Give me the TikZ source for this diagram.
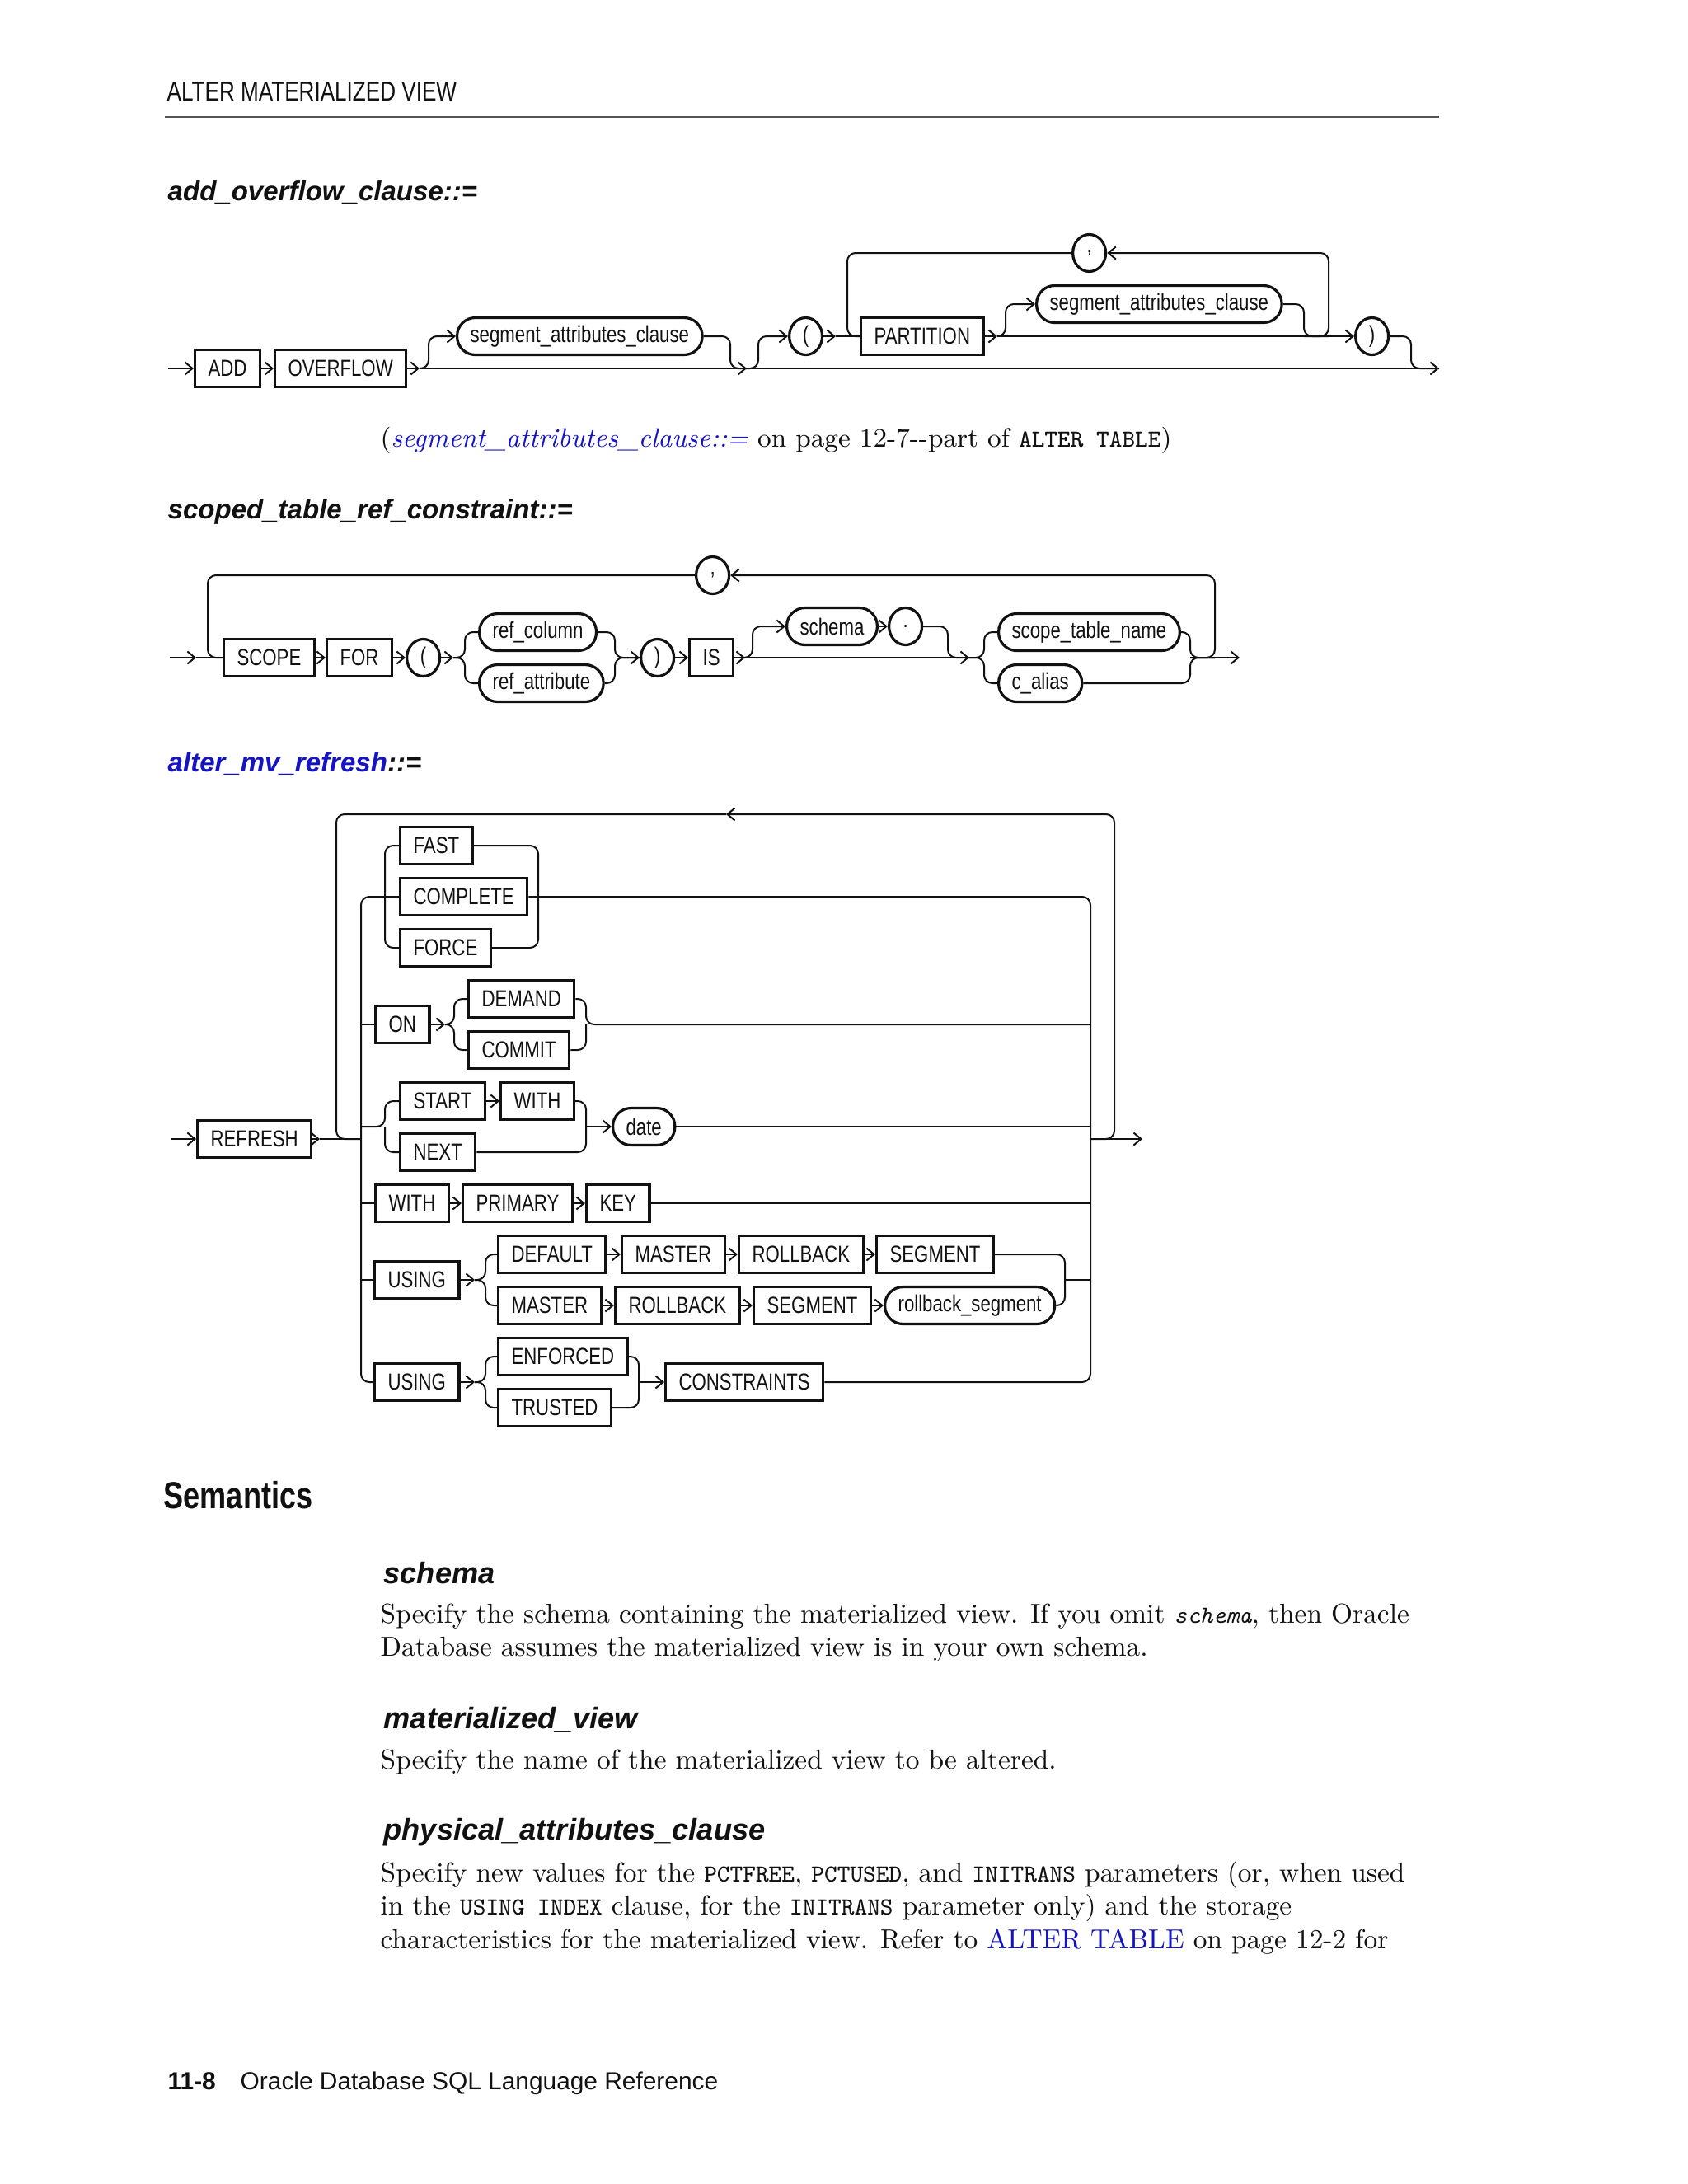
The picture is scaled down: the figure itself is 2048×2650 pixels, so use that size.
\documentclass[tikz,border=0pt]{standalone}
\usepackage{fontspec}
\setsansfont{Liberation Sans}
\newfontfamily\cond{Liberation Sans}[FakeStretch=0.79]
\usetikzlibrary{arrows.meta,positioning,shapes.geometric}
\definecolor{ink}{HTML}{111111}
\definecolor{link}{HTML}{1414C4}
\definecolor{rulegray}{HTML}{555555}
\newcommand{\sqlw}[1]{{\ttfamily\fontsize{8.5}{11}\selectfont #1}}
\newcommand{\sqli}[1]{{\ttfamily\itshape\fontsize{8.5}{11}\selectfont #1}}
\tikzset{
  every node/.style={text=ink,inner sep=0},
  kw/.style={draw=ink,line width=.32mm,minimum height=4.5mm,inner xsep=1.6mm,anchor=west,fill=white,font=\cond\fontsize{8}{9}\selectfont},
  nt/.style={kw,rounded corners=2.2mm},
  ct/.style={draw=ink,line width=.32mm,ellipse,minimum width=4mm,minimum height=4.5mm,anchor=west,fill=white,font=\cond\fontsize{8}{9}\selectfont},
  ln/.style={draw=ink,line width=.2mm,rounded corners=1mm},
  ar/.style={ln,-{Straight Barb[length=.9mm,width=1.5mm]}},
  runhead/.style={anchor=base west,font=\cond\fontsize{9.4}{11}\selectfont},
  heading/.style={anchor=base west,font=\sffamily\bfseries\itshape\fontsize{9.4}{11}\selectfont},
  subhead/.style={anchor=base west,font=\sffamily\bfseries\itshape\fontsize{10.3}{12}\selectfont},
  semhead/.style={anchor=base west,font=\cond\bfseries\fontsize{13}{15}\selectfont},
  body/.style={anchor=base west,font=\fontsize{9.5}{11.4}\selectfont},
  foot/.style={anchor=base west,font=\sffamily\fontsize{8.5}{10}\selectfont}
}
\begin{document}
\begin{tikzpicture}[x=0.1mm,y=-0.1mm]
\path[use as bounding box,fill=white] (0,0) rectangle (2048,2650);
% running head
\node[runhead] (runtitle) at (202,122) {ALTER MATERIALIZED VIEW};
\coordinate (rulel) at (200,142);
\coordinate (ruler) at (1746,142);
\draw[line width=.28mm,draw=rulegray] (rulel) -- (ruler);

% add_overflow_clause
\node[heading] (hadd) at (203,243) {add\_overflow\_clause::=};
\node[kw] (add) at (235,447) {ADD};
\node[kw] (ovf) at (332,447) {OVERFLOW};
\node[nt] (seg1) at (553,408) {segment\_attributes\_clause};
\node[ct] (lp1) at (956,408) {(};
\node[kw] (part) at (1043,408) {PARTITION};
\node[nt] (seg2) at (1256,369) {segment\_attributes\_clause};
\node[ct] (comma1) at (1300,307) {,};
\node[ct] (rp1) at (1643,408) {)};
\coordinate (a0) at (204,447);
\coordinate (a1) at (509,447);
\coordinate (a2) at (520,447);
\coordinate (a3) at (886,447);
\coordinate (a4) at (906,447);
\coordinate (a5) at (920,447);
\coordinate (a6) at (1712,447);
\coordinate (a7) at (1746,447);
\coordinate (p1) at (1014,408);
\coordinate (p2) at (1028,408);
\coordinate (p3) at (1210,408);
\coordinate (p4) at (1220,408);
\coordinate (p5) at (1582,408);
\coordinate (p6) at (1612,408);
\draw[ar] (a0) -- (add.west);
\draw[ar] (add.east) -- (ovf.west);
\draw[ar] (ovf.east) -- (a1);
\draw[ar] (a1) -- (a4);
\draw[ar] (a1) -- (a2) |- (seg1.west);
\draw[ln] (seg1.east) -| (a3) -- (a4);
\draw[ar] (a4) -- (a7);
\draw[ar] (a4) -- (a5) |- (lp1.west);
\draw[ar] (lp1.east) -- (p1);
\draw[ln] (p1) -- (part.west);
\draw[ar] (part.east) -- (p3);
\draw[ar] (p3) -- (rp1.west);
\draw[ar] (p3) -- (p4) |- (seg2.west);
\draw[ln] (seg2.east) -| (p5) -- (p6);
\draw[ar] (p5) -- (p6) |- (comma1.east);
\draw[ln] (comma1.west) -| (p2) -- (part.west);
\draw[ln] (rp1.east) -| (a6) -- (a7);
\node[body,font=\fontsize{9.2}{11}\selectfont] (xref) at (461,542) {(\textcolor{link}{\textit{segment\_attributes\_clause::=}} on page 12-7-{}-part of \sqlw{ALTER TABLE})};

% scoped_table_ref_constraint
\node[heading] (hscope) at (203,629) {scoped\_table\_ref\_constraint::=};
\node[kw] (scope) at (270,798) {SCOPE};
\node[kw] (for) at (395,798) {FOR};
\node[ct] (lp2) at (492,798) {(};
\node[nt] (refc) at (580,767) {ref\_column};
\node[nt] (refa) at (580,829) {ref\_attribute};
\node[ct] (rp2) at (776,798) {)};
\node[kw] (is) at (835,798) {IS};
\node[nt] (sch) at (953,760) {schema};
\node[ct] (dot) at (1077,760) {.};
\node[nt] (stn) at (1210,767) {scope\_table\_name};
\node[nt] (cal) at (1210,829) {c\_alias};
\node[ct] (comma2) at (843,698) {,};
\coordinate (s0) at (206,798);
\coordinate (s1) at (238,798);
\coordinate (s2) at (252,798);
\coordinate (s3) at (550,798);
\coordinate (s4) at (564,798);
\coordinate (s5) at (746,798);
\coordinate (s6) at (904,798);
\coordinate (s7) at (913,798);
\coordinate (s8) at (1150,798);
\coordinate (s9) at (1176,798);
\coordinate (s10) at (1194,798);
\coordinate (s11) at (1444,798);
\coordinate (s12) at (1474,798);
\coordinate (s13) at (1504,798);
\draw[ar] (s0) -- (s1);
\draw[ln] (s1) -- (scope.west);
\draw[ar] (scope.east) -- (for.west);
\draw[ar] (for.east) -- (lp2.west);
\draw[ar] (lp2.east) -- (s3);
\draw[ln] (s3) -- (s4) |- (refc.west);
\draw[ln] (s3) -- (s4) |- (refa.west);
\draw[ar] (refc.east) -| (s5) -- (rp2.west);
\draw[ln] (refa.east) -| (s5) -- (rp2.west);
\draw[ar] (rp2.east) -- (is.west);
\draw[ar] (is.east) -- (s6);
\draw[ar] (s6) -- (s9);
\draw[ar] (s6) -- (s7) |- (sch.west);
\draw[ar] (sch.east) -- (dot.west);
\draw[ln] (dot.east) -| (s8) -- (s9);
\draw[ln] (s9) -- (s10) |- (stn.west);
\draw[ln] (s9) -- (s10) |- (cal.west);
\draw[ln] (stn.east) -| (s11) -- (s12);
\draw[ln] (cal.east) -| (s11) -- (s12);
\draw[ar] (s11) -- (s13);
\draw[ar] (s11) -- (s12) |- (comma2.east);
\draw[ln] (comma2.west) -| (s2) -- (scope.west);

% alter_mv_refresh
\node[heading] (hrefresh) at (203,936) {\textcolor{link}{alter\_mv\_refresh}::=};
\node[kw] (refresh) at (238,1382) {REFRESH};
\node[kw] (fast) at (484,1026) {FAST};
\node[kw] (complete) at (484,1088) {COMPLETE};
\node[kw] (force) at (484,1150) {FORCE};
\node[kw] (on) at (454,1243) {ON};
\node[kw] (demand) at (567,1212) {DEMAND};
\node[kw] (commit) at (567,1274) {COMMIT};
\node[kw] (start) at (484,1336) {START};
\node[kw] (with1) at (606,1336) {WITH};
\node[kw] (next) at (484,1398) {NEXT};
\node[nt] (date) at (742,1367) {date};
\node[kw] (with2) at (454,1460) {WITH};
\node[kw] (primary) at (560,1460) {PRIMARY};
\node[kw] (key) at (710,1460) {KEY};
\node[kw] (using1) at (453,1553) {USING};
\node[kw] (default) at (603,1522) {DEFAULT};
\node[kw] (master1) at (753,1522) {MASTER};
\node[kw] (rollback1) at (895,1522) {ROLLBACK};
\node[kw] (segment1) at (1062,1522) {SEGMENT};
\node[kw] (master2) at (603,1584) {MASTER};
\node[kw] (rollback2) at (745,1584) {ROLLBACK};
\node[kw] (segment2) at (913,1584) {SEGMENT};
\node[nt] (rbseg) at (1072,1584) {rollback\_segment};
\node[kw] (using2) at (453,1677) {USING};
\node[kw] (enforced) at (603,1646) {ENFORCED};
\node[kw] (trusted) at (603,1708) {TRUSTED};
\node[kw] (constraints) at (806,1677) {CONSTRAINTS};
\coordinate (r0) at (208,1382);
\coordinate (r1) at (388,1382);
\coordinate (r2) at (408,1382);
\coordinate (r3) at (438,1382);
\coordinate (r4) at (1323,1382);
\coordinate (r5) at (1352,1382);
\coordinate (r6) at (1386,1382);
\coordinate (r7) at (881,988);
\coordinate (f1) at (467,1088);
\coordinate (f2) at (653,1088);
\coordinate (o1) at (540,1243);
\coordinate (o2) at (551,1243);
\coordinate (o3) at (711,1243);
\coordinate (t1) at (467,1367);
\coordinate (t2) at (711,1367);
\coordinate (u1) at (576,1553);
\coordinate (u2) at (589,1553);
\coordinate (u3) at (1292,1553);
\coordinate (v1) at (576,1677);
\coordinate (v2) at (589,1677);
\coordinate (v3) at (775,1677);
\draw[ar] (r0) -- (refresh.west);
\draw[ar] (refresh.east) -- (r1);
\draw[ln] (r1) -- (r3);
\draw[ln] (complete.west) -| (r3) |- (using2.west);
\draw[ln] (complete.east) -| (r4) |- (constraints.east);
\draw[ar] (r4) -- (r6);
\draw[ar] (r4) -- (r5) |- (r7);
\draw[ln] (r7) -| (r2) -- (r3);
% FAST / COMPLETE / FORCE
\draw[ln] (fast.west) -| (f1) |- (force.west);
\draw[ln] (fast.east) -| (f2) |- (force.east);
% ON DEMAND / COMMIT
\draw[ln] (r3 |- on.west) -- (on.west);
\draw[ar] (on.east) -- (o1);
\draw[ln] (o1) -- (o2) |- (demand.west);
\draw[ln] (o1) -- (o2) |- (commit.west);
\draw[ln] (demand.east) -| (o3) -- (r4 |- o3);
\draw[ln] (commit.east) -| (o3);
% START WITH / NEXT date
\draw[ln] (r3 |- t1) -- (t1) |- (start.west);
\draw[ln] (t1) |- (next.west);
\draw[ar] (start.east) -- (with1.west);
\draw[ln] (with1.east) -| (t2);
\draw[ln] (next.east) -| (t2);
\draw[ar] (t2) -- (date.west);
\draw[ln] (date.east) -- (r4 |- date.east);
% WITH PRIMARY KEY
\draw[ln] (r3 |- with2.west) -- (with2.west);
\draw[ar] (with2.east) -- (primary.west);
\draw[ar] (primary.east) -- (key.west);
\draw[ln] (key.east) -- (r4 |- key.east);
% USING ... ROLLBACK SEGMENT
\draw[ln] (r3 |- using1.west) -- (using1.west);
\draw[ar] (using1.east) -- (u1);
\draw[ln] (u1) -- (u2) |- (default.west);
\draw[ln] (u1) -- (u2) |- (master2.west);
\draw[ar] (default.east) -- (master1.west);
\draw[ar] (master1.east) -- (rollback1.west);
\draw[ar] (rollback1.east) -- (segment1.west);
\draw[ar] (master2.east) -- (rollback2.west);
\draw[ar] (rollback2.east) -- (segment2.west);
\draw[ar] (segment2.east) -- (rbseg.west);
\draw[ln] (segment1.east) -| (u3) |- (rbseg.east);
\draw[ln] (u3) -- (r4 |- u3);
% USING ENFORCED / TRUSTED CONSTRAINTS
\draw[ar] (using2.east) -- (v1);
\draw[ln] (v1) -- (v2) |- (enforced.west);
\draw[ln] (v1) -- (v2) |- (trusted.west);
\draw[ln] (enforced.east) -| (v3) |- (trusted.east);
\draw[ar] (v3) -- (constraints.west);

% semantics
\node[semhead] (sem) at (198,1830) {Semantics};
\node[subhead] (sh1) at (465,1921) {schema};
\node[body] (p1a) at (461,1969) {Specify the schema containing the materialized view. If you omit \sqli{schema}, then Oracle};
\node[body] (p1b) at (461,2009) {Database assumes the materialized view is in your own schema.};
\node[subhead] (sh2) at (465,2097) {materialized\_view};
\node[body] (p2a) at (461,2146) {Specify the name of the materialized view to be altered.};
\node[subhead] (sh3) at (465,2232) {physical\_attributes\_clause};
\node[body] (p3a) at (461,2283) {Specify new values for the \sqlw{PCTFREE}, \sqlw{PCTUSED}, and \sqlw{INITRANS} parameters (or, when used};
\node[body] (p3b) at (461,2323) {in the \sqlw{USING INDEX} clause, for the \sqlw{INITRANS} parameter only) and the storage};
\node[body] (p3c) at (461,2364) {characteristics for the materialized view. Refer to \textcolor{link}{ALTER TABLE} on page 12-2 for};
\node[foot,font=\sffamily\bfseries\fontsize{8.5}{10}\selectfont] (pgno) at (203,2535) {11-8};
\node[foot] (booktitle) at (291,2535) {Oracle Database SQL Language Reference};
\end{tikzpicture}
\end{document}
